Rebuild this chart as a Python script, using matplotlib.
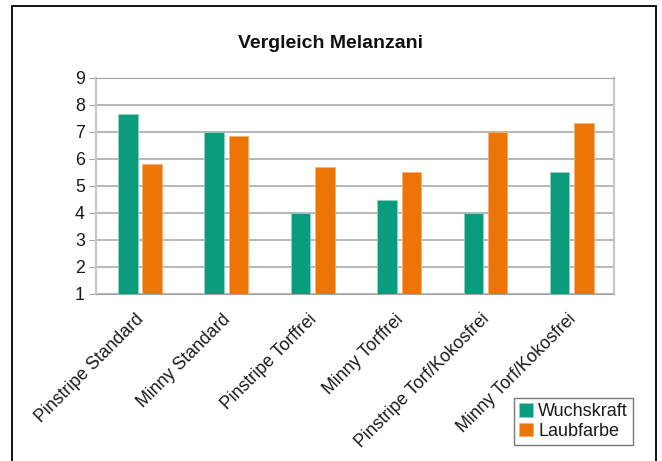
import numpy as np
import matplotlib.pyplot as plt
from matplotlib.patches import Rectangle
from matplotlib.transforms import ScaledTranslation

plt.rcParams['font.family'] = ['Liberation Sans', 'DejaVu Sans']

# Daten
sorten = ['Pinstripe Standard', 'Minny Standard', 'Pinstripe Torffrei',
          'Minny Torffrei', 'Pinstripe Torf/Kokosfrei', 'Minny Torf/Kokosfrei']
wuchskraft = [7.67, 7.0, 4.0, 4.48, 4.0, 5.5]
laubfarbe = [5.8, 6.83, 5.69, 5.5, 7.0, 7.31]

gruen = '#0a9c7c'
orange = '#ec7505'

fig = plt.figure(figsize=(6.62, 4.61), dpi=100)
ax = fig.add_axes([0.145, 0.3623, 0.783, 0.4692])

x = np.arange(len(sorten))
w = 0.225
ax.bar(x - 0.132, np.array(wuchskraft) - 1, w, bottom=1, color=gruen,
       edgecolor='#8fd3c2', linewidth=0.6, label='Wuchskraft', zorder=3)
ax.bar(x + 0.15, np.array(laubfarbe) - 1, w, bottom=1, color=orange,
       edgecolor='#f5b277', linewidth=0.6, label='Laubfarbe', zorder=3)

ax.set_xlim(-0.5, len(sorten) - 0.5)
ax.set_ylim(1, 9)
ax.set_yticks(range(1, 10))
ax.yaxis.grid(True, color='#a3a3a3', linewidth=1.1, zorder=0)
ax.set_axisbelow(True)

for s in ['left', 'right']:
    ax.spines[s].set_color('#c8c8c8')
    ax.spines[s].set_linewidth(1.6)
ax.spines['top'].set_color('#a3a3a3')
ax.spines['bottom'].set_color('#a3a3a3')

ax.tick_params(axis='y', length=5, color='#a3a3a3', labelsize=12.8,
               labelcolor='#1a1a1a', pad=3)
ax.tick_params(axis='x', length=0, pad=12)
ax.set_xticks(x)
ax.set_xticklabels(sorten, rotation=45, ha='right', rotation_mode='anchor',
                   fontsize=12.8, color='#1a1a1a')
versatz = ScaledTranslation(-4 / 100, 0, fig.dpi_scale_trans)
for lab in ax.get_xticklabels():
    lab.set_transform(lab.get_transform() + versatz)

fig.text(0.4985, 0.906, 'Vergleich Melanzani', ha='center', va='center',
         fontsize=14, fontweight='bold', color='#111111')

leg = fig.legend(loc='upper left', bbox_to_anchor=(0.776, 0.137),
                 fontsize=13, frameon=True, fancybox=False,
                 handlelength=0.75, handleheight=0.75, handletextpad=0.3,
                 borderpad=0.3, labelspacing=0.15, borderaxespad=0)
leg.get_frame().set_edgecolor('#555555')
leg.get_frame().set_linewidth(1.0)
for t in leg.get_texts():
    t.set_color('#1a1a1a')

# Rahmen um die Grafik
fig.patches.append(Rectangle((12 / 662, -0.05), 644 / 662, 1.05 - 6.5 / 461,
                             transform=fig.transFigure, fill=False,
                             edgecolor='black', linewidth=1.3))

fig.savefig('out.png', dpi=100)
